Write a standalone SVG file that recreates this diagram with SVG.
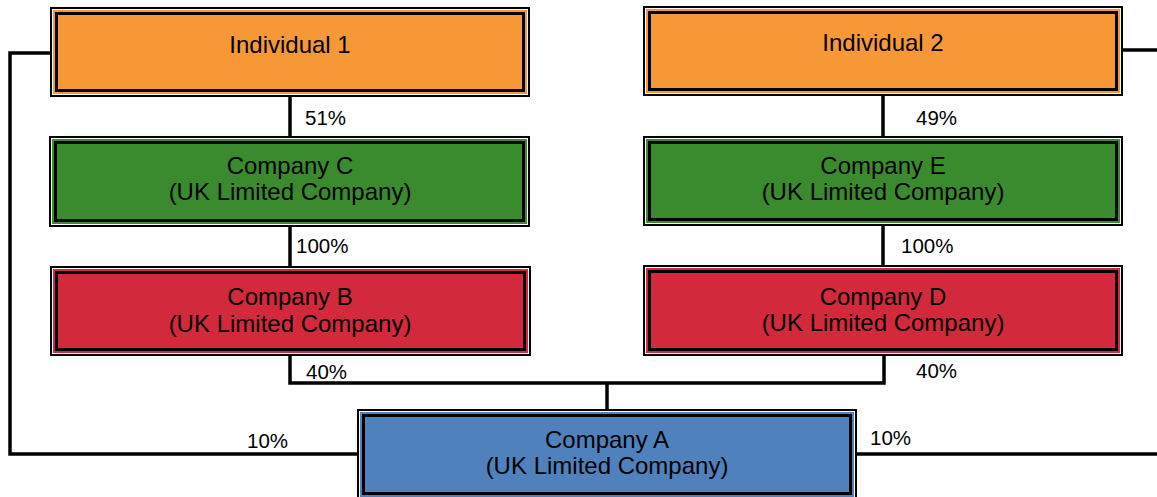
<svg xmlns="http://www.w3.org/2000/svg" width="1157" height="497" viewBox="0 0 1157 497">
<style>
.o{fill:#fff;stroke:#000;stroke-width:2}
.i{stroke:#000;stroke-width:3}
.t{font-family:"Liberation Sans",Arial,sans-serif;font-size:24px;fill:#000;text-anchor:middle}
.p{font-family:"Liberation Sans",Arial,sans-serif;font-size:20.5px;fill:#000}
.c{fill:none;stroke:#000;stroke-width:3.5}
.or{fill:#F79837}.gr{fill:#3A8B2E}.rd{fill:#D22A3C}.bl{fill:#4F81BD}
</style>
<rect width="1157" height="497" fill="#fff"/>
<g id="connectors">
<path class="c" d="M50,53 H10 V454 H357"/>
<path class="c" d="M1123,50 H1157"/>
<path class="c" d="M857,454 H1157"/>
<path class="c" d="M290,97 V136"/>
<path class="c" d="M290,227 V266"/>
<path class="c" d="M883,96 V136"/>
<path class="c" d="M883,226 V265"/>
<path class="c" d="M290,356 V383 H884 V356"/>
<path class="c" d="M607,383 V409"/>
</g>
<g id="individual1">
<rect class="o" x="51" y="8" width="478" height="88"/>
<rect class="or" x="53" y="10" width="474" height="84"/>
<rect class="i or" x="56.5" y="13.5" width="467" height="77"/>
<text class="t" x="290" y="53">Individual 1</text>
</g>
<g id="individual2">
<rect class="o" x="644" y="7" width="478" height="88"/>
<rect class="or" x="646" y="9" width="474" height="84"/>
<rect class="i or" x="649.5" y="12.5" width="467" height="77"/>
<text class="t" x="883" y="51">Individual 2</text>
</g>
<g id="companyC">
<rect class="o" x="50" y="137" width="479" height="89"/>
<rect class="gr" x="52" y="139" width="475" height="85"/>
<rect class="i gr" x="55.5" y="142.5" width="468" height="78"/>
<text class="t" x="290" y="174">Company C</text>
<text class="t" x="290" y="200">(UK Limited Company)</text>
</g>
<g id="companyE">
<rect class="o" x="644" y="137" width="478" height="88"/>
<rect class="gr" x="646" y="139" width="474" height="84"/>
<rect class="i gr" x="649.5" y="142.5" width="467" height="77"/>
<text class="t" x="883" y="174">Company E</text>
<text class="t" x="883" y="200">(UK Limited Company)</text>
</g>
<g id="companyB">
<rect class="o" x="51" y="267" width="479" height="88"/>
<rect class="rd" x="53" y="269" width="475" height="84"/>
<rect class="i rd" x="56.5" y="272.5" width="468" height="77"/>
<text class="t" x="290" y="305">Company B</text>
<text class="t" x="290" y="332">(UK Limited Company)</text>
</g>
<g id="companyD">
<rect class="o" x="644" y="266" width="478" height="89"/>
<rect class="rd" x="646" y="268" width="474" height="85"/>
<rect class="i rd" x="649.5" y="271.5" width="467" height="78"/>
<text class="t" x="883" y="305">Company D</text>
<text class="t" x="883" y="331">(UK Limited Company)</text>
</g>
<g id="companyA">
<rect class="o" x="358" y="410" width="498" height="89"/>
<rect class="bl" x="360" y="412" width="494" height="85"/>
<rect class="i bl" x="363.5" y="415.5" width="487" height="78"/>
<text class="t" x="607" y="448">Company A</text>
<text class="t" x="607" y="474">(UK Limited Company)</text>
</g>
<g id="labels">
<text class="p" x="305" y="125">51%</text>
<text class="p" x="916" y="125">49%</text>
<text class="p" x="296" y="253">100%</text>
<text class="p" x="901" y="253">100%</text>
<text class="p" x="306" y="379">40%</text>
<text class="p" x="916" y="378">40%</text>
<text class="p" x="247" y="448">10%</text>
<text class="p" x="870" y="445">10%</text>
</g>
</svg>
